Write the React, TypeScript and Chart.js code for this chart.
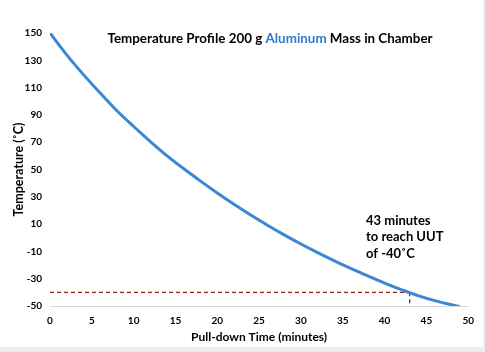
import React, { useEffect, useRef } from 'react';
import Chart from 'chart.js/auto';

// Pull-down time (minutes) and chamber temperature (°C)
const times = [0, 2, 4, 6, 8, 10, 12, 14, 16, 18, 20, 22, 24, 26, 28, 30, 32, 34, 36, 38, 40, 42, 44, 46, 48, 49];
const temps = [150, 134, 119.5, 106, 93, 81.5, 70.5, 60, 50.5, 41.5, 32.8, 24.5, 16.6, 9.2, 2.1, -4.6, -10.9, -16.9, -22.6, -28, -33.2, -38, -42.4, -46.1, -49.1, -50.6];

// Marked threshold
const thresholdTime = 43;
const thresholdTemp = -40;
const axisMinTemp = -50;

const xTicks = [0, 5, 10, 15, 20, 25, 30, 35, 40, 45, 50];
const yTicks = [-50, -30, -10, 10, 30, 50, 70, 90, 110, 130, 150];

const titleParts = [
  { text: 'Temperature Profile 200 g ', color: '#000000' },
  { text: 'Aluminum', color: '#2E7BCF' },
  { text: ' Mass in Chamber', color: '#000000' },
];
const noteLines = ['43 minutes', 'to reach UUT', 'of -40˚C'];

const FONT = 'Lato, "Open Sans", sans-serif';
const LINE_BLUE = '#3B87D4';
const DASH_RED = '#8B2312';

const overlay = {
  id: 'overlay',
  afterDraw(chart: any) {
    const { ctx, chartArea } = chart;
    ctx.save();
    // Title
    ctx.font = `bold 13.4px ${FONT}`;
    ctx.textBaseline = 'middle';
    const total = titleParts.reduce((s, p) => s + ctx.measureText(p.text).width, 0);
    let x = chartArea.left + 220 - total / 2;
    const ty = chartArea.top + 6;
    for (const p of titleParts) {
      ctx.fillStyle = p.color;
      ctx.textAlign = 'left';
      ctx.fillText(p.text, x, ty);
      x += ctx.measureText(p.text).width;
    }
    // Note
    ctx.font = `bold 13px ${FONT}`;
    ctx.fillStyle = '#000000';
    noteLines.forEach((l, i) => {
      ctx.fillText(l, chartArea.left + 316, chartArea.top + 187.5 + i * 16.5);
    });
    ctx.restore();
  },
};

export default function App() {
  const ref = useRef<HTMLCanvasElement>(null);
  useEffect(() => {
    const chart = new Chart(ref.current!, {
      type: 'line',
      data: {
        datasets: [
          {
            data: times.map((t, i) => ({ x: t, y: temps[i] })),
            borderColor: LINE_BLUE,
            borderWidth: 3,
            pointRadius: 0,
            cubicInterpolationMode: 'monotone',
          },
          {
            data: [
              { x: 0, y: thresholdTemp },
              { x: thresholdTime, y: thresholdTemp },
            ],
            borderColor: DASH_RED,
            borderWidth: 1.3,
            borderDash: [4, 3],
            pointRadius: 0,
          },
          {
            data: [
              { x: thresholdTime, y: thresholdTemp },
              { x: thresholdTime, y: axisMinTemp },
            ],
            borderColor: DASH_RED,
            borderWidth: 1.3,
            borderDash: [4, 3],
            pointRadius: 0,
          },
        ],
      },
      options: {
        animation: false,
        responsive: false,
        maintainAspectRatio: false,
        layout: { padding: { top: 33, right: 13, left: 0, bottom: 0 } },
        plugins: { legend: { display: false }, tooltip: { enabled: false }, title: { display: false } },
        scales: {
          x: {
            type: 'linear',
            min: 0,
            max: 50,
            afterBuildTicks: (s: any) => {
              s.ticks = xTicks.map((v) => ({ value: v }));
            },
            afterFit: (s: any) => {
              s.height = 41;
            },
            grid: { display: false, drawTicks: false },
            border: { display: true, color: '#D9D9D9', width: 1 },
            ticks: { color: '#000', font: { family: FONT, size: 10, weight: 'bold' }, padding: 9, maxRotation: 0 },
            title: {
              display: true,
              text: 'Pull-down Time (minutes)',
              color: '#000',
              font: { family: FONT, size: 12, weight: 'bold' },
              padding: { top: 0, bottom: 3 },
            },
          },
          y: {
            type: 'linear',
            min: -50,
            max: 150,
            afterBuildTicks: (s: any) => {
              s.ticks = yTicks.map((v) => ({ value: v }));
            },
            afterFit: (s: any) => {
              s.width = 50;
            },
            grid: { display: false, drawTicks: false },
            border: { display: false },
            ticks: { color: '#000', font: { family: FONT, size: 10, weight: 'bold' }, padding: 8 },
            title: {
              display: true,
              text: 'Temperature (˚C)',
              color: '#000',
              font: { family: FONT, size: 12.5, weight: 'bold' },
              padding: { top: 11, bottom: 0 },
            },
          },
        },
      },
      plugins: [overlay],
    } as any);
    return () => chart.destroy();
  }, []);
  return (
    <div style={{ position: 'absolute', left: 0, top: 0, width: 485, height: 352, background: '#EDEDED' }}>
      <div style={{ position: 'absolute', left: 0, top: 0, width: 483, height: 347, background: '#FFFFFF' }}>
        <canvas ref={ref} width={483} height={347} style={{ display: 'block', width: 483, height: 347 }} />
      </div>
    </div>
  );
}
